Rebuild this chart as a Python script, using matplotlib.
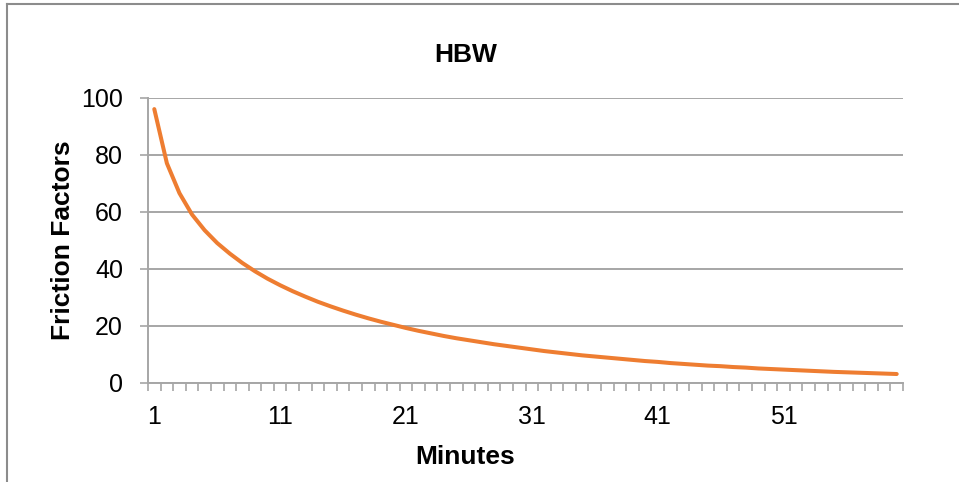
import numpy as np
import matplotlib.pyplot as plt
from matplotlib.lines import Line2D

plt.rcParams['font.family'] = ['Liberation Sans', 'DejaVu Sans']

# Friction factors, minutes 1..60
minutes = list(range(1, 61))
friction = [96.0, 77.0, 66.5, 59.0, 53.5, 49.0, 45.3, 42.0, 39.1, 36.5,
            34.2, 32.1, 30.2, 28.4, 26.8, 25.3, 23.9, 22.6, 21.4, 20.3,
            19.2, 18.2, 17.3, 16.4, 15.6, 14.9, 14.2, 13.5, 12.9, 12.3,
            11.7, 11.1, 10.6, 10.1, 9.6, 9.2, 8.8, 8.4, 8.0, 7.6,
            7.3, 6.9, 6.6, 6.3, 6.0, 5.8, 5.5, 5.3, 5.0, 4.8,
            4.6, 4.4, 4.2, 4.0, 3.8, 3.65, 3.5, 3.35, 3.2, 3.05]
x_labels = [1, 11, 21, 31, 41, 51]
y_ticks = [0, 20, 40, 60, 80, 100]

W, H = 959, 482
fig = plt.figure(figsize=(W / 100, H / 100), dpi=100)
ax = fig.add_axes([148 / W, 1 - 382.7 / H, (903 - 148) / W, (382.7 - 97.7) / H])

grid_c = '#a6a6a6'
ax.plot(minutes, friction, color='#ee7d31', lw=2.9, solid_capstyle='round', zorder=3)

ax.set_xlim(0.5, 60.5)
ax.set_ylim(0, 100)
ax.set_yticks(y_ticks)
ax.yaxis.grid(True, color=grid_c, lw=1.4)
ax.set_axisbelow(True)

# category boundary ticks, labels every 10 minutes
ax.set_xticks(np.arange(0.5, 61, 1.0), minor=True)
ax.set_xticks(x_labels)
ax.tick_params(axis='x', which='major', length=0, pad=16, labelsize=18)
ax.tick_params(axis='x', which='minor', length=6, width=1.2, color=grid_c, direction='out')
ax.tick_params(axis='y', length=6, width=1.2, color=grid_c, pad=12, labelsize=18)

for s in ['top', 'right']:
    ax.spines[s].set_visible(False)
for s in ['left', 'bottom']:
    ax.spines[s].set_color(grid_c)
    ax.spines[s].set_linewidth(1.4)

fig.text(466 / W, 1 - 55 / H, 'HBW', ha='center', va='center', fontsize=19, fontweight='bold')
fig.text(465 / W, 1 - 457 / H, 'Minutes', ha='center', va='center', fontsize=19, fontweight='bold')
fig.text(63 / W, 1 - 240 / H, 'Friction Factors', ha='center', va='center', rotation=90,
         fontsize=19, fontweight='bold')

# chart frame
border = '#8c8c8c'
fig.add_artist(Line2D([7 / W, 1], [1 - 4 / H, 1 - 4 / H], color=border, lw=1.5))
fig.add_artist(Line2D([7 / W, 7 / W], [0, 1 - 4 / H], color=border, lw=1.5))

fig.savefig('out.png', dpi=100)
